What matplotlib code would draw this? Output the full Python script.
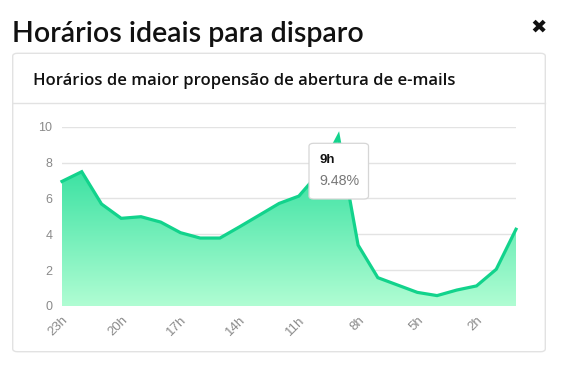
import numpy as np
import matplotlib
matplotlib.use("Agg")
import matplotlib.pyplot as plt
from matplotlib.patches import FancyBboxPatch
from matplotlib.lines import Line2D
from matplotlib.colors import LinearSegmentedColormap

# data
hours = ['23h', '22h', '21h', '20h', '19h', '18h', '17h', '16h', '15h', '14h', '13h', '12h',
         '11h', '10h', '9h', '8h', '7h', '6h', '5h', '4h', '3h', '2h', '1h', '0h']
open_rate = [6.95, 7.49, 5.69, 4.89, 4.98, 4.68, 4.09, 3.79, 3.79, 4.42, 5.07, 5.72,
             6.13, 7.4, 9.48, 3.40, 1.58, 1.17, 0.76, 0.58, 0.89, 1.12, 2.05, 4.28]
y_ticks = [0, 2, 4, 6, 8, 10]
tick_every = 3
peak_idx = 14

title = 'Horários ideais para disparo'
subtitle = 'Horários de maior propensão de abertura de e-mails'

W, H = 562, 375
fig = plt.figure(figsize=(W / 100, H / 100), dpi=100)
fig.patch.set_facecolor('white')


def fx(px):
    return px / W


def fy(py):
    return 1 - py / H


# card
card = FancyBboxPatch((fx(12.7), fy(351.7)), fx(545.3) - fx(12.7), fy(53.3) - fy(351.7),
                      boxstyle='round,pad=0,rounding_size=0.008', transform=fig.transFigure,
                      facecolor='white', edgecolor='#e2e2e2', linewidth=1.0, zorder=-2)
fig.patches.append(card)
fig.add_artist(Line2D([fx(12.7), fx(545.3)], [fy(103.3), fy(103.3)], transform=fig.transFigure,
                      color='#e2e2e2', linewidth=1.0, zorder=-1))

fig.text(fx(11.5), fy(42), title, fontsize=20.5, family='Lato', weight='semibold',
         color='#111111', va='baseline', ha='left')
fig.text(fx(547), fy(27), '✖', fontsize=14, family='DejaVu Sans',
         color='#111111', va='center', ha='right')
fig.text(fx(33), fy(85), subtitle, fontsize=12, family='Open Sans', weight='semibold',
         color='#111111', va='baseline', ha='left')

# chart
ax = fig.add_axes([fx(62), fy(306), fx(516) - fx(62), fy(126.7) - fy(306)])
ax.set_zorder(2)
ax.patch.set_visible(False)
x = np.arange(len(hours))
y = np.array(open_rate)

for s in ax.spines.values():
    s.set_visible(False)
ax.set_yticks(y_ticks)
ax.grid(axis='y', color='#e3e3e3', linewidth=1.0)
ax.set_axisbelow(True)
ax.tick_params(axis='y', length=0, pad=7, labelsize=9, labelcolor='#8a8a8a')
ax.tick_params(axis='x', length=0, pad=6, labelsize=9.5, labelcolor='#8a8a8a')
for lab in ax.get_yticklabels():
    lab.set_family('Liberation Sans')
ax.set_xticks(x[::tick_every])
ax.set_xticklabels(hours[::tick_every], rotation=45, ha='right', rotation_mode='anchor',
                   family='Liberation Sans')

# gradient fill under the line
cmap = LinearSegmentedColormap.from_list('g', ['#b0fdd3', '#1edb96'])
poly = ax.fill_between(x, 0, y, facecolor='none', edgecolor='none')
grad = np.linspace(0, 1, 256).reshape(-1, 1)
im = ax.imshow(grad, cmap=cmap, origin='lower', aspect='auto',
               extent=[x[0], x[-1], 0, y.max()], zorder=2)
im.set_clip_path(poly.get_paths()[0], transform=ax.transData)
ax.set_xlim(0, len(hours) - 1)
ax.set_ylim(0, 10)
ax.plot(x, y, color='#12d38c', linewidth=2.3, zorder=3, solid_joinstyle='miter',
        clip_on=False)

# tooltip for the peak hour
tip = FancyBboxPatch((fx(309), fy(199)), fx(368.5) - fx(309), fy(143.3) - fy(199),
                     boxstyle='round,pad=0,rounding_size=0.008', transform=fig.transFigure,
                     facecolor='white', edgecolor='#d6d6d6', linewidth=0.9, zorder=10)
fig.patches.append(tip)
fig.text(fx(319), fy(163.5), hours[peak_idx], fontsize=9.5, family='Liberation Sans',
         weight='bold', color='#111111', va='baseline', zorder=11)
fig.text(fx(319), fy(185.5), f'{open_rate[peak_idx]:.2f}%', fontsize=10.3,
         family='Liberation Sans', color='#777777', va='baseline', zorder=11)

fig.savefig('out.png', dpi=100)
